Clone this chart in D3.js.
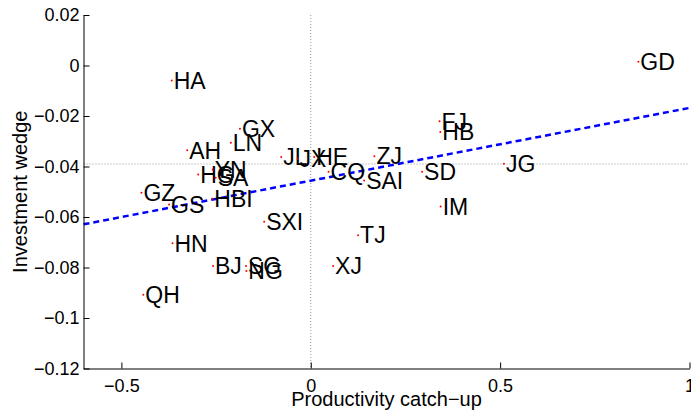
<!DOCTYPE html>
<html>
<head>
<meta charset="utf-8">
<script src="https://cdn.jsdelivr.net/npm/d3@7"></script>
<style>
  body { margin: 0; background: #fff; }
  text { font-family: "Liberation Sans", Arial, Helvetica, sans-serif; }
</style>
</head>
<body>
<svg id="chart" width="691" height="419"></svg>
<script>
// province labels and their values (productivity catch-up, investment wedge)
const names = ["HA", "GX", "LN", "AH", "HG", "YN", "SA", "GZ", "GS", "HBI", "SXI", "JL", "JX", "HE",
  "CQ", "ZJ", "SAI", "FJ", "HB", "SD", "JG", "IM", "TJ", "XJ", "HN", "BJ", "SG", "NG", "QH", "GD"];
const xVals = [-0.367, -0.187, -0.211, -0.326, -0.297, -0.259, -0.251, -0.447, -0.374, -0.260, -0.123, -0.078, -0.035, 0.009,
  0.047, 0.168, 0.141, 0.340, 0.342, 0.294, 0.510, 0.343, 0.125, 0.059, -0.365, -0.258, -0.171, -0.170, -0.442, 0.865];
const yVals = [-0.0059, -0.0250, -0.0306, -0.0336, -0.0432, -0.0412, -0.0445, -0.0504, -0.0550, -0.0528, -0.0619, -0.0362, -0.0368, -0.0362,
  -0.0421, -0.0359, -0.0455, -0.0221, -0.0263, -0.0421, -0.0389, -0.0558, -0.0672, -0.0794, -0.0704, -0.0794, -0.0794, -0.0814, -0.0908, 0.0015];

// fitted line end points and the mean reference lines
const fitX = [-0.6, 1];
const fitY = [-0.0629, -0.0168];
const meanX = 0;
const meanY = -0.039;

const xTicks = [-0.5, 0, 0.5, 1];
const yTicks = [0.02, 0, -0.02, -0.04, -0.06, -0.08, -0.1, -0.12];

const svg = d3.select("#chart");
const mLeft = 83.5, mRight = 689.5, mTop = 15, mBottom = 368.5;

const x = d3.scaleLinear().domain([-0.6, 1]).range([mLeft, mRight]);
const y = d3.scaleLinear().domain([-0.12, 0.02]).range([mBottom, mTop]);

const fmt = (d) => (d === 0 ? "0" : String(d).replace("-", "\u2212"));

// mean reference lines (grey dotted)
svg.append("line")
  .attr("x1", x(meanX)).attr("x2", x(meanX))
  .attr("y1", mTop).attr("y2", mBottom)
  .attr("stroke", "#999").attr("stroke-width", 1)
  .attr("stroke-dasharray", "1,2");
svg.append("line")
  .attr("x1", mLeft).attr("x2", mRight)
  .attr("y1", y(meanY)).attr("y2", y(meanY))
  .attr("stroke", "#999").attr("stroke-width", 1)
  .attr("stroke-dasharray", "1,2");

// regression line (blue dashed)
svg.append("path")
  .datum(fitX.map((d, i) => [d, fitY[i]]))
  .attr("fill", "none")
  .attr("stroke", "#0000ff")
  .attr("stroke-width", 2.5)
  .attr("stroke-dasharray", "6,4")
  .attr("d", d3.line().x((d) => x(d[0])).y((d) => y(d[1])));

// axes, ticks pointing inward like matlab
const xAxis = svg.append("g")
  .attr("transform", "translate(0," + mBottom + ")")
  .call(d3.axisBottom(x).tickValues(xTicks).tickSizeInner(-6).tickSizeOuter(0).tickPadding(11).tickFormat(fmt));
const yAxis = svg.append("g")
  .attr("transform", "translate(" + mLeft + ",0)")
  .call(d3.axisLeft(y).tickValues(yTicks).tickSizeInner(-6).tickSizeOuter(0).tickPadding(4).tickFormat(fmt));

[xAxis, yAxis].forEach((g) => {
  g.select(".domain").attr("stroke", "#000");
  g.selectAll(".tick line").attr("stroke", "#000");
  g.selectAll("text").attr("font-size", "18px").attr("fill", "#000")
    .style("font-family", "'Liberation Sans', Arial, sans-serif");
});

// points and labels
const pts = svg.append("g");
names.forEach((n, i) => {
  pts.append("circle")
    .attr("cx", x(xVals[i]))
    .attr("cy", y(yVals[i]))
    .attr("r", 1)
    .attr("fill", "red");
  pts.append("text")
    .attr("x", x(xVals[i]) + 2)
    .attr("y", y(yVals[i]))
    .attr("dy", "0.36em")
    .attr("font-size", "23px")
    .attr("fill", "#000")
    .text(n);
});

// axis titles
svg.append("text")
  .attr("x", (mLeft + mRight) / 2)
  .attr("y", 406)
  .attr("text-anchor", "middle")
  .attr("font-size", "20px")
  .text("Productivity catch\u2212up");

svg.append("text")
  .attr("transform", "translate(27," + (mTop + mBottom) / 2 + ") rotate(-90)")
  .attr("text-anchor", "middle")
  .attr("font-size", "20px")
  .text("Investment wedge");
</script>
</body>
</html>
